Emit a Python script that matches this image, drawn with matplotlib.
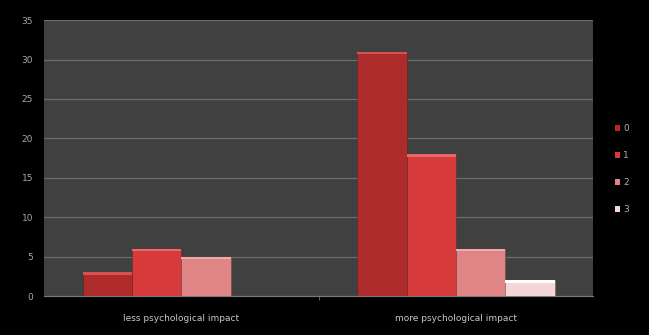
import numpy as np
import matplotlib.pyplot as plt
from matplotlib.patches import Patch

categories = ["less psychological impact", "more psychological impact"]
series_names = ["0", "1", "2", "3"]
values_0 = [3, 31]
values_1 = [6, 18]
values_2 = [5, 6]
values_3 = [0, 2]
y_ticks = [0, 5, 10, 15, 20, 25, 30, 35]

series = [values_0, values_1, values_2, values_3]
colors = ["#ad2b2b", "#d63a3a", "#e08585", "#f4d6d6"]
tops = ["#d85050", "#ec6868", "#f0aaaa", "#ffffff"]

fig = plt.figure(figsize=(6.49, 3.35), dpi=100, facecolor="black")
ax = fig.add_axes([0.068, 0.116, 0.846, 0.824])
ax.set_facecolor("#404040")

x = np.arange(len(categories))
width = 0.18
for i, vals in enumerate(series):
    pos = x + (i - 1.5) * width
    ax.bar(pos, vals, width, color=colors[i], edgecolor="#00000030",
           linewidth=0.6, zorder=3)
    # light highlight strip at top of each bar
    for p, v in zip(pos, vals):
        if v > 0:
            ax.bar(p, 0.3, width, bottom=v - 0.3, color=tops[i],
                   edgecolor="none", zorder=4)

ax.set_xlim(-0.5, 1.5)
ax.set_ylim(0, 35)
ax.set_yticks(y_ticks)
ax.set_yticklabels([str(t) for t in y_ticks])
ax.yaxis.grid(True, color="#6c6c6c", linewidth=0.9, zorder=0)
ax.set_axisbelow(True)

ax.set_xticks(x)
ax.set_xticklabels(categories)
ax.set_xticks([0.5], minor=True)
ax.tick_params(axis="x", which="major", length=0, pad=13,
               labelsize=6.5, labelcolor="#c8c8c8")
ax.tick_params(axis="x", which="minor", length=3, color="#707070")
ax.tick_params(axis="y", length=0, pad=8, labelsize=6.5, labelcolor="#a8a8a8")

for side in ["top", "right", "left"]:
    ax.spines[side].set_visible(False)
ax.spines["bottom"].set_color("#7a7a7a")

handles = [Patch(facecolor=c, edgecolor="none") for c in colors]
fig.legend(handles, series_names, loc="center left",
           bbox_to_anchor=(0.935, 0.495), frameon=False,
           fontsize=6.5, labelcolor="#b0b0b0", handlelength=0.6,
           handleheight=0.6, handletextpad=0.3, labelspacing=2.0)

plt.savefig("out.png", dpi=100, facecolor="black")
plt.close(fig)
